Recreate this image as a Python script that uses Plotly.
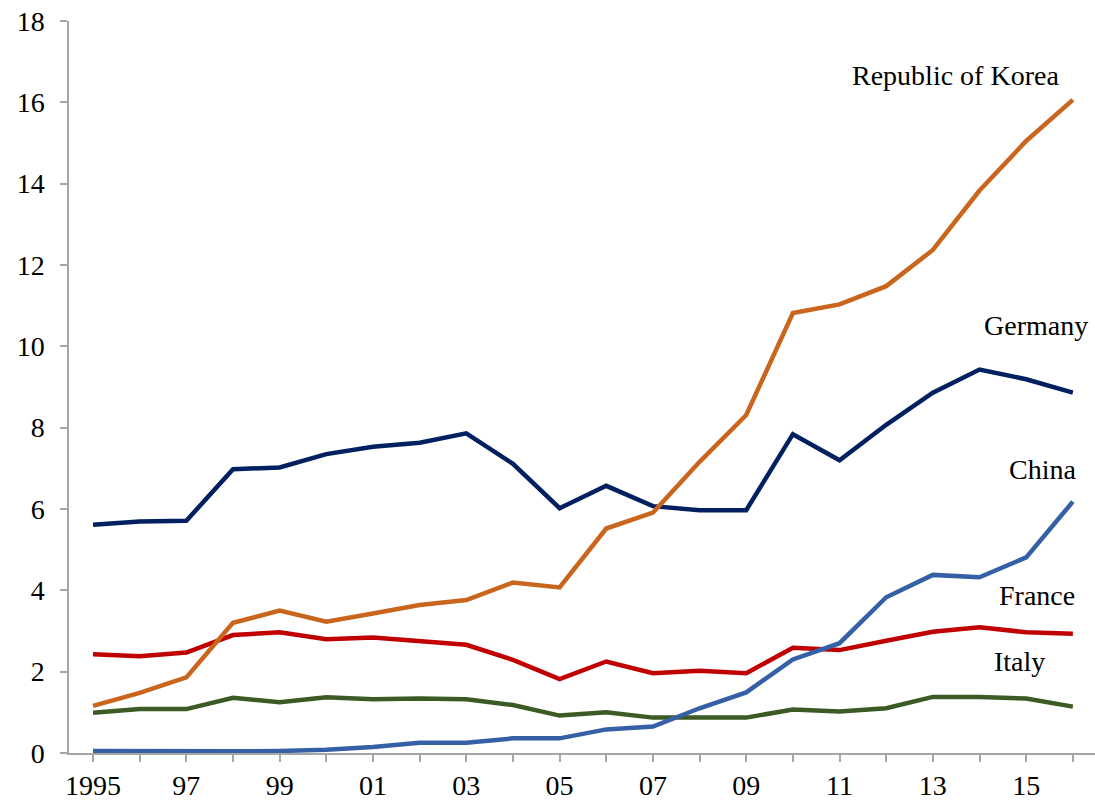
import plotly.graph_objects as go

years = list(range(1995, 2017))
tick_labels = ["1995", "", "97", "", "99", "", "01", "", "03", "", "05", "",
               "07", "", "09", "", "11", "", "13", "", "15", ""]

korea = [1.16, 1.48, 1.86, 3.20, 3.50, 3.23, 3.43, 3.64, 3.76, 4.19, 4.07,
         5.52, 5.91, 7.16, 8.31, 10.82, 11.03, 11.48, 12.37, 13.83, 15.05, 16.06]
germany = [5.61, 5.69, 5.71, 6.98, 7.02, 7.35, 7.53, 7.63, 7.86, 7.11, 6.02,
           6.57, 6.07, 5.97, 5.97, 7.84, 7.20, 8.07, 8.86, 9.43, 9.19, 8.86]
china = [0.05, 0.04, 0.04, 0.04, 0.05, 0.08, 0.15, 0.25, 0.25, 0.36, 0.36,
         0.58, 0.65, 1.10, 1.49, 2.30, 2.70, 3.83, 4.38, 4.32, 4.81, 6.18]
france = [2.43, 2.38, 2.47, 2.90, 2.97, 2.80, 2.84, 2.76, 2.66, 2.29, 1.82,
          2.25, 1.96, 2.02, 1.96, 2.59, 2.53, 2.76, 2.98, 3.09, 2.97, 2.93]
italy = [0.99, 1.08, 1.08, 1.36, 1.25, 1.37, 1.32, 1.34, 1.32, 1.18, 0.92,
         1.00, 0.87, 0.87, 0.87, 1.07, 1.02, 1.10, 1.38, 1.38, 1.34, 1.14]

series = [
    ("Italy", italy, "#3B5A24"),
    ("France", france, "#C00000"),
    ("China", china, "#3560A6"),
    ("Germany", germany, "#002060"),
    ("Republic of Korea", korea, "#C9651C"),
]

label_pos = {
    "Republic of Korea": (2013.48, 16.66),
    "Germany": (2015.21, 10.52),
    "China": (2015.34, 6.96),
    "France": (2015.24, 3.88),
    "Italy": (2014.85, 2.24),
}

FONT = "Liberation Serif, Times New Roman, serif"

fig = go.Figure()
for name, vals, color in series:
    fig.add_trace(go.Scatter(x=years, y=vals, mode="lines", name=name,
                             line=dict(color=color, width=4.5)))

for name, (lx, ly) in label_pos.items():
    fig.add_annotation(x=lx, y=ly, text=name, showarrow=False,
                       xanchor="center", yanchor="middle",
                       font=dict(family=FONT, size=28, color="black"))

fig.update_layout(
    width=1095, height=802,
    margin=dict(l=69, r=0, t=21, b=49),
    plot_bgcolor="white", paper_bgcolor="white",
    showlegend=False,
    font=dict(family=FONT, size=28, color="black"),
)
fig.update_xaxes(
    range=[1994.485, 2016.475],
    tickvals=years, ticktext=tick_labels,
    ticks="outside", ticklen=7, tickcolor="#a6a6a6", tickwidth=1.5,
    showline=True, linecolor="#a6a6a6", linewidth=1.5,
    showgrid=False, zeroline=False, automargin=False,
    tickfont=dict(family=FONT, size=28, color="black"),
)
fig.update_yaxes(
    range=[0, 18], tickvals=list(range(0, 19, 2)),
    ticks="outside", ticklen=7, tickcolor="#a6a6a6", tickwidth=1.5,
    showline=True, linecolor="#a6a6a6", linewidth=1.5,
    showgrid=False, zeroline=False, automargin=False,
    ticklabelstandoff=10,
    tickfont=dict(family=FONT, size=28, color="black"),
)

fig.write_html("out.html",
               config={"displayModeBar": False},
               post_script="document.body.style.margin='0';document.body.style.overflow='hidden';")
